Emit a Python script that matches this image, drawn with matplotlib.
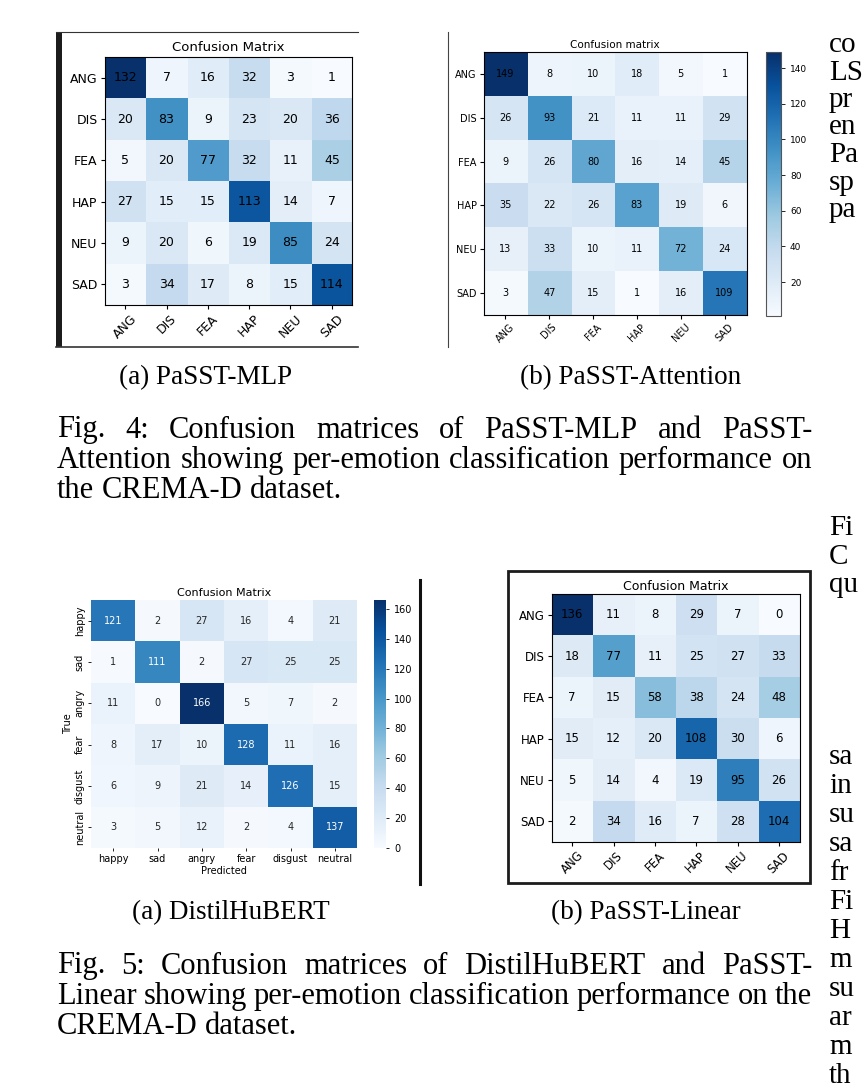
import numpy as np
import matplotlib
matplotlib.use('Agg')
import matplotlib.pyplot as plt
from matplotlib.patches import Rectangle
import seaborn as sns

W, H = 867, 1085

emotions = ['ANG', 'DIS', 'FEA', 'HAP', 'NEU', 'SAD']
hubert_labels = ['happy', 'sad', 'angry', 'fear', 'disgust', 'neutral']

mlp = [[132, 7, 16, 32, 3, 1],
       [20, 83, 9, 23, 20, 36],
       [5, 20, 77, 32, 11, 45],
       [27, 15, 15, 113, 14, 7],
       [9, 20, 6, 19, 85, 24],
       [3, 34, 17, 8, 15, 114]]

attention = [[149, 8, 10, 18, 5, 1],
             [26, 93, 21, 11, 11, 29],
             [9, 26, 80, 16, 14, 45],
             [35, 22, 26, 83, 19, 6],
             [13, 33, 10, 11, 72, 24],
             [3, 47, 15, 1, 16, 109]]

hubert = [[121, 2, 27, 16, 4, 21],
          [1, 111, 2, 27, 25, 25],
          [11, 0, 166, 5, 7, 2],
          [8, 17, 10, 128, 11, 16],
          [6, 9, 21, 14, 126, 15],
          [3, 5, 12, 2, 4, 137]]

linear = [[136, 11, 8, 29, 7, 0],
          [18, 77, 11, 25, 27, 33],
          [7, 15, 58, 38, 24, 48],
          [15, 12, 20, 108, 30, 6],
          [5, 14, 4, 19, 95, 26],
          [2, 34, 16, 7, 28, 104]]

sub_captions = ['(a) PaSST-MLP', '(b) PaSST-Attention', '(a) DistilHuBERT', '(b) PaSST-Linear']
fig4_lines = ['Fig. 4: Confusion matrices of PaSST-MLP and PaSST-',
              'Attention showing per-emotion classification performance on',
              'the CREMA-D dataset.']
fig5_lines = ['Fig. 5: Confusion matrices of DistilHuBERT and PaSST-',
              'Linear showing per-emotion classification performance on the',
              'CREMA-D dataset.']
margin_top = ['co', 'LS', 'pr', 'en', 'Pa', 'sp', 'pa']
margin_mid = ['Fi', 'C', 'qu']
margin_bot = ['sa', 'in', 'su', 'sa', 'fr', 'Fi', 'H', 'm', 'su', 'ar', 'm', 'th']

SERIF = 'Liberation Serif'
CAP_FS = 22
SUB_FS = 19.5


def box(x0, y0, x1, y1):
    # pixel box (top-left origin) -> figure fraction
    return [x0 / W, 1 - y1 / H, (x1 - x0) / W, (y1 - y0) / H]


def plain_cm(ax, cm, title, fs, title_fs, pad):
    cm = np.array(cm)
    im = ax.imshow(cm, cmap='Blues')
    ax.set_title(title, fontsize=title_fs, pad=pad)
    ticks = np.arange(len(emotions))
    ax.set_xticks(ticks)
    ax.set_xticklabels(emotions, rotation=45, fontsize=fs)
    ax.set_yticks(ticks)
    ax.set_yticklabels(emotions, fontsize=fs)
    ax.tick_params(length=3, width=0.8, pad=2)
    for i in range(cm.shape[0]):
        for j in range(cm.shape[1]):
            ax.text(j, i, str(cm[i, j]), ha='center', va='center', fontsize=fs, color='black')
    return im


fig = plt.figure(figsize=(W / 100, H / 100), dpi=100)
bg = fig.add_axes([0, 0, 1, 1])
bg.set_xlim(0, W)
bg.set_ylim(H, 0)
bg.axis('off')
renderer = fig.canvas.get_renderer()

# panel frames (pixel coords)
bg.add_patch(Rectangle((56, 32), 6, 315, color='#1c1c1c', lw=0))
bg.plot([56, 358], [32, 32], color='#333333', lw=0.8)
bg.plot([56, 358], [347, 347], color='#333333', lw=1.2)
bg.plot([448, 448], [32, 347], color='#444444', lw=0.8)
bg.plot([420, 420], [580, 884], color='#111111', lw=2.2)
bg.add_patch(Rectangle((508, 571), 302, 312, fill=False, ec='#1c1c1c', lw=2.0))

# (a) PaSST-MLP
ax1 = fig.add_axes(box(104, 57, 353, 305))
plain_cm(ax1, mlp, 'Confusion Matrix', 9, 9.5, 4)

# (b) PaSST-Attention
ax2 = fig.add_axes(box(483, 52, 747, 315))
im2 = plain_cm(ax2, attention, 'Confusion matrix', 7, 7.5, 3)
cax2 = fig.add_axes(box(766, 52, 781, 316))
cb2 = fig.colorbar(im2, cax=cax2)
cb2.set_ticks([20, 40, 60, 80, 100, 120, 140])
cax2.tick_params(labelsize=6.5, length=3, width=0.6)
cb2.outline.set_edgecolor('#555555')
cb2.outline.set_linewidth(0.8)

# (a) DistilHuBERT
ax3 = fig.add_axes(box(91, 600, 357, 848))
cax3 = fig.add_axes(box(374, 600, 386, 848))
sns.heatmap(np.array(hubert), annot=True, fmt='d', cmap='Blues', ax=ax3, cbar_ax=cax3,
            xticklabels=hubert_labels, yticklabels=hubert_labels, annot_kws={'fontsize': 7})
ax3.set_title('Confusion Matrix', fontsize=8, pad=3)
ax3.set_xlabel('Predicted', fontsize=7, labelpad=1)
ax3.set_ylabel('True', fontsize=7, labelpad=1)
ax3.tick_params(labelsize=7, length=2.5, width=0.6, pad=2)
plt.setp(ax3.get_yticklabels(), rotation=90, va='center')
plt.setp(ax3.get_xticklabels(), rotation=0)
cax3.set_yticks([0, 20, 40, 60, 80, 100, 120, 140, 160])
cax3.tick_params(labelsize=7, length=2.5, width=0.6)

# (b) PaSST-Linear
ax4 = fig.add_axes(box(551, 594, 800, 842))
plain_cm(ax4, linear, 'Confusion Matrix', 8.5, 9, 3)


def justified(line, y, x0=57, x1=812, last=False):
    words = line.split(' ')
    texts = [bg.text(0, y, w, fontsize=CAP_FS, family=SERIF, va='center', ha='left') for w in words]
    widths = [t.get_window_extent(renderer).width for t in texts]
    if last or len(words) == 1:
        t1 = bg.text(0, y, 'a a', fontsize=CAP_FS, family=SERIF)
        t2 = bg.text(0, y, 'aa', fontsize=CAP_FS, family=SERIF)
        gap = t1.get_window_extent(renderer).width - t2.get_window_extent(renderer).width
        t1.remove()
        t2.remove()
    else:
        gap = (x1 - x0 - sum(widths)) / (len(words) - 1)
    x = x0
    for t, w in zip(texts, widths):
        t.set_x(x)
        x += w + gap


# sub captions
bg.text(206, 378, sub_captions[0], fontsize=SUB_FS, family=SERIF, ha='center', va='center')
bg.text(631, 378, sub_captions[1], fontsize=SUB_FS, family=SERIF, ha='center', va='center')
bg.text(231, 913, sub_captions[2], fontsize=SUB_FS, family=SERIF, ha='center', va='center')
bg.text(646, 913, sub_captions[3], fontsize=SUB_FS, family=SERIF, ha='center', va='center')

for k, line in enumerate(fig4_lines):
    justified(line, 430 + 30.5 * k, last=(k == len(fig4_lines) - 1))
for k, line in enumerate(fig5_lines):
    justified(line, 966 + 30.5 * k, last=(k == len(fig5_lines) - 1))

# clipped text of the neighbouring column
for k, s in enumerate(margin_top):
    bg.text(829, 45 + 27.5 * k, s, fontsize=21, family=SERIF, va='center')
for k, s in enumerate(margin_mid):
    bg.text(829, 528 + 28.5 * k, s, fontsize=21, family=SERIF, va='center')
for k, s in enumerate(margin_bot):
    bg.text(829, 757 + 29 * k, s, fontsize=21, family=SERIF, va='center')

fig.savefig('out.png', dpi=100)
